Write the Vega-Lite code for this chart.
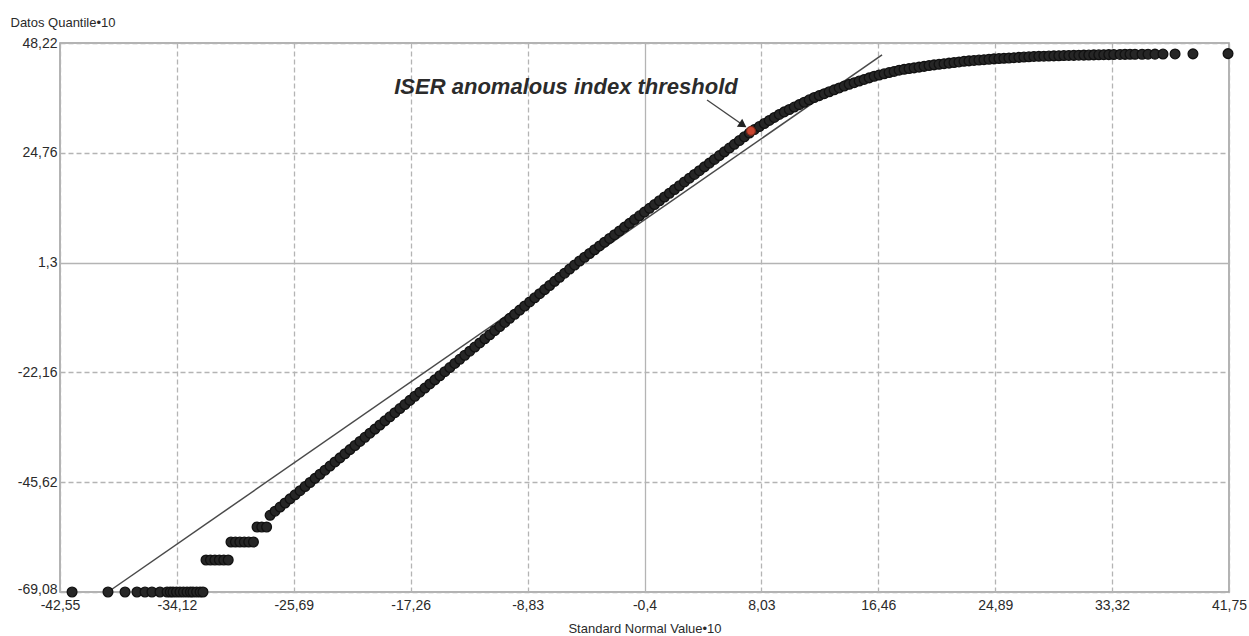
{
  "$schema": "https://vega.github.io/schema/vega-lite/v6.json",
  "width": 1169,
  "height": 549,
  "autosize": {"type": "none"},
  "padding": {"left": 60, "top": 43, "right": 20, "bottom": 44},
  "background": "white",
  "datasets": {
    "pts": [
      {"x": -41.68, "y": -69.08}, {"x": -39.09, "y": -69.08}, {"x": -37.86, "y": -69.08}, {"x": -37.0, "y": -69.08},
      {"x": -36.42, "y": -69.08}, {"x": -35.92, "y": -69.08}, {"x": -35.34, "y": -69.08}, {"x": -34.83, "y": -69.08},
      {"x": -34.6, "y": -69.08}, {"x": -34.4, "y": -69.08}, {"x": -34.15, "y": -69.08}, {"x": -33.9, "y": -69.08},
      {"x": -33.65, "y": -69.08}, {"x": -33.39, "y": -69.08}, {"x": -33.15, "y": -69.08}, {"x": -32.96, "y": -69.08},
      {"x": -32.7, "y": -69.08}, {"x": -32.45, "y": -69.08}, {"x": -32.24, "y": -69.08},
      {"x": -32.02, "y": -62.24}, {"x": -31.7, "y": -62.24}, {"x": -31.38, "y": -62.24}, {"x": -31.06, "y": -62.24},
      {"x": -30.74, "y": -62.24}, {"x": -30.42, "y": -62.24},
      {"x": -30.22, "y": -58.4}, {"x": -29.9, "y": -58.4}, {"x": -29.58, "y": -58.4}, {"x": -29.26, "y": -58.4},
      {"x": -28.94, "y": -58.4}, {"x": -28.6, "y": -58.4},
      {"x": -28.34, "y": -55.19}, {"x": -28.0, "y": -55.19}, {"x": -27.65, "y": -55.19},
      {"x": -27.4, "y": -52.69}, {"x": -27.04, "y": -51.81}, {"x": -26.68, "y": -50.94}, {"x": -26.32, "y": -50.06},
      {"x": -25.96, "y": -49.18}, {"x": -25.6, "y": -48.31}, {"x": -25.24, "y": -47.43}, {"x": -24.88, "y": -46.55},
      {"x": -24.52, "y": -45.68}, {"x": -24.16, "y": -44.8}, {"x": -23.8, "y": -43.92}, {"x": -23.44, "y": -43.05},
      {"x": -23.08, "y": -42.17}, {"x": -22.72, "y": -41.29}, {"x": -22.36, "y": -40.42}, {"x": -22.0, "y": -39.54},
      {"x": -21.64, "y": -38.66}, {"x": -21.28, "y": -37.78}, {"x": -20.92, "y": -36.91}, {"x": -20.56, "y": -36.03},
      {"x": -20.2, "y": -35.15}, {"x": -19.84, "y": -34.28}, {"x": -19.48, "y": -33.4}, {"x": -19.12, "y": -32.52},
      {"x": -18.76, "y": -31.65}, {"x": -18.4, "y": -30.77}, {"x": -18.04, "y": -29.89}, {"x": -17.68, "y": -29.02},
      {"x": -17.32, "y": -28.14}, {"x": -16.96, "y": -27.26}, {"x": -16.6, "y": -26.39}, {"x": -16.24, "y": -25.51},
      {"x": -15.88, "y": -24.63}, {"x": -15.52, "y": -23.76}, {"x": -15.16, "y": -22.88}, {"x": -14.8, "y": -22.0},
      {"x": -14.44, "y": -21.13}, {"x": -14.08, "y": -20.25}, {"x": -13.72, "y": -19.37}, {"x": -13.36, "y": -18.5},
      {"x": -13.0, "y": -17.62}, {"x": -12.64, "y": -16.74}, {"x": -12.28, "y": -15.87}, {"x": -11.92, "y": -14.99},
      {"x": -11.56, "y": -14.11}, {"x": -11.2, "y": -13.23}, {"x": -10.84, "y": -12.36}, {"x": -10.48, "y": -11.48},
      {"x": -10.12, "y": -10.6}, {"x": -9.76, "y": -9.73}, {"x": -9.4, "y": -8.85}, {"x": -9.04, "y": -7.97},
      {"x": -8.68, "y": -7.1}, {"x": -8.32, "y": -6.22}, {"x": -7.96, "y": -5.34}, {"x": -7.6, "y": -4.47},
      {"x": -7.24, "y": -3.59}, {"x": -6.88, "y": -2.71}, {"x": -6.52, "y": -1.84}, {"x": -6.16, "y": -0.96},
      {"x": -5.8, "y": -0.08}, {"x": -5.44, "y": 0.79},
      {"x": -5.08, "y": 1.64}, {"x": -4.72, "y": 2.44}, {"x": -4.36, "y": 3.25}, {"x": -4.0, "y": 4.05},
      {"x": -3.64, "y": 4.86}, {"x": -3.28, "y": 5.66}, {"x": -2.92, "y": 6.47}, {"x": -2.56, "y": 7.27},
      {"x": -2.2, "y": 8.07}, {"x": -1.84, "y": 8.88}, {"x": -1.48, "y": 9.68}, {"x": -1.12, "y": 10.49},
      {"x": -0.76, "y": 11.29}, {"x": -0.4, "y": 12.09}, {"x": -0.04, "y": 12.9}, {"x": 0.32, "y": 13.7},
      {"x": 0.68, "y": 14.51}, {"x": 1.04, "y": 15.31}, {"x": 1.4, "y": 16.12}, {"x": 1.76, "y": 16.92},
      {"x": 2.12, "y": 17.72}, {"x": 2.48, "y": 18.53}, {"x": 2.84, "y": 19.33}, {"x": 3.2, "y": 20.14},
      {"x": 3.56, "y": 20.94}, {"x": 3.92, "y": 21.75}, {"x": 4.28, "y": 22.55}, {"x": 4.64, "y": 23.35},
      {"x": 5.0, "y": 24.16}, {"x": 5.36, "y": 24.96}, {"x": 5.72, "y": 25.77}, {"x": 6.08, "y": 26.57},
      {"x": 6.44, "y": 27.38}, {"x": 6.8, "y": 28.18}, {"x": 7.16, "y": 28.98},
      {"x": 7.52, "y": 29.73}, {"x": 7.88, "y": 30.37}, {"x": 8.24, "y": 31.02}, {"x": 8.6, "y": 31.67},
      {"x": 8.96, "y": 32.31}, {"x": 9.32, "y": 32.96}, {"x": 9.68, "y": 33.5}, {"x": 10.04, "y": 34.01},
      {"x": 10.4, "y": 34.53}, {"x": 10.76, "y": 35.05}, {"x": 11.12, "y": 35.56}, {"x": 11.48, "y": 36.08},
      {"x": 11.84, "y": 36.57}, {"x": 12.2, "y": 36.98}, {"x": 12.56, "y": 37.39}, {"x": 12.92, "y": 37.8},
      {"x": 13.28, "y": 38.21}, {"x": 13.64, "y": 38.62}, {"x": 14.0, "y": 39.02}, {"x": 14.36, "y": 39.4},
      {"x": 14.72, "y": 39.74}, {"x": 15.08, "y": 40.09}, {"x": 15.44, "y": 40.43}, {"x": 15.8, "y": 40.77},
      {"x": 16.16, "y": 41.11}, {"x": 16.52, "y": 41.38}, {"x": 16.88, "y": 41.64}, {"x": 17.24, "y": 41.9},
      {"x": 17.6, "y": 42.15}, {"x": 17.96, "y": 42.41}, {"x": 18.32, "y": 42.59}, {"x": 18.68, "y": 42.75},
      {"x": 19.04, "y": 42.91}, {"x": 19.4, "y": 43.07}, {"x": 19.76, "y": 43.23}, {"x": 20.12, "y": 43.4},
      {"x": 20.48, "y": 43.55}, {"x": 20.84, "y": 43.67}, {"x": 21.2, "y": 43.8}, {"x": 21.56, "y": 43.92},
      {"x": 21.92, "y": 44.05}, {"x": 22.28, "y": 44.17}, {"x": 22.64, "y": 44.3}, {"x": 23.0, "y": 44.4},
      {"x": 23.36, "y": 44.49}, {"x": 23.72, "y": 44.58}, {"x": 24.08, "y": 44.66}, {"x": 24.44, "y": 44.75},
      {"x": 24.8, "y": 44.83}, {"x": 25.16, "y": 44.89}, {"x": 25.52, "y": 44.96}, {"x": 25.88, "y": 45.02},
      {"x": 26.24, "y": 45.09}, {"x": 26.6, "y": 45.15}, {"x": 26.96, "y": 45.22}, {"x": 27.32, "y": 45.28},
      {"x": 27.68, "y": 45.35}, {"x": 28.04, "y": 45.38}, {"x": 28.4, "y": 45.41}, {"x": 28.76, "y": 45.44},
      {"x": 29.12, "y": 45.47}, {"x": 29.48, "y": 45.5}, {"x": 29.84, "y": 45.53}, {"x": 30.2, "y": 45.56},
      {"x": 30.56, "y": 45.58}, {"x": 30.92, "y": 45.61}, {"x": 31.28, "y": 45.63}, {"x": 31.64, "y": 45.65},
      {"x": 32.0, "y": 45.68}, {"x": 32.36, "y": 45.7}, {"x": 32.72, "y": 45.72}, {"x": 33.08, "y": 45.74},
      {"x": 33.44, "y": 45.76}, {"x": 33.89, "y": 45.78}, {"x": 34.25, "y": 45.79}, {"x": 34.61, "y": 45.8},
      {"x": 34.97, "y": 45.81}, {"x": 35.48, "y": 45.82}, {"x": 35.91, "y": 45.83}, {"x": 36.41, "y": 45.84},
      {"x": 36.99, "y": 45.86}, {"x": 37.86, "y": 45.88}, {"x": 39.15, "y": 45.9}, {"x": 41.68, "y": 45.95}
    ],
    "ref": [
      {"x": -39.09, "y": -69.08},
      {"x": 16.73, "y": 45.66}
    ],
    "thr": [
      {"x": 7.28, "y": 29.42}
    ],
    "arrow": [
      {"x": 4.11, "y": 36.04, "x2": 6.7, "y2": 30.7}
    ],
    "note": [
      {"x": -6.06, "y": 38.8, "label": "ISER anomalous index threshold"}
    ]
  },
  "encoding": {
    "x": {
      "field": "x",
      "type": "quantitative",
      "scale": {"domain": [-42.55, 41.75], "nice": false, "zero": false},
      "axis": {
        "title": "Standard Normal Value•10",
        "values": [-42.55, -34.12, -25.69, -17.26, -8.83, -0.4, 8.03, 16.46, 24.89, 33.32, 41.75],
        "labelExpr": "replace('' + datum.value, '.', ',')",
        "labelFlush": false,
        "labelOverlap": false,
        "labelPadding": 6,
        "titleY": 40,
        "titleBaseline": "alphabetic",
        "gridDash": {"condition": {"test": "abs(datum.value + 0.4) < 0.001", "value": []}, "value": [5, 3]}
      }
    },
    "y": {
      "field": "y",
      "type": "quantitative",
      "scale": {"domain": [-69.08, 48.22], "nice": false, "zero": false},
      "axis": {
        "title": "Datos Quantile•10",
        "values": [48.22, 24.76, 1.3, -22.16, -45.62, -69.08],
        "labelExpr": "replace('' + datum.value, '.', ',')",
        "labelFlush": false,
        "labelOverlap": false,
        "labelPadding": 3,
        "labelOffset": {"condition": {"test": "datum.value < -69", "value": -3}, "value": 0},
        "titleAngle": 0,
        "titleX": -50,
        "titleY": -21,
        "titleAlign": "left",
        "titleBaseline": "middle",
        "gridDash": {"condition": {"test": "abs(datum.value - 1.3) < 0.001", "value": []}, "value": [5, 3]}
      }
    }
  },
  "layer": [
    {
      "data": {"name": "ref"},
      "mark": {"type": "line", "color": "#4a4a4a", "strokeWidth": 1.5, "clip": false}
    },
    {
      "data": {"name": "pts"},
      "mark": {"type": "point", "shape": "circle", "filled": false, "fill": "#262626", "stroke": "#111111", "strokeWidth": 1.3, "size": 95, "opacity": 1, "fillOpacity": 1, "strokeOpacity": 1}
    },
    {
      "data": {"name": "thr"},
      "mark": {"type": "point", "shape": "circle", "filled": false, "fill": "#c9452f", "stroke": "#7a2a1c", "strokeWidth": 1.2, "size": 80, "opacity": 1, "fillOpacity": 1}
    },
    {
      "data": {"name": "arrow"},
      "mark": {"type": "rule", "color": "#444444", "strokeWidth": 1.4},
      "encoding": {
        "x2": {"field": "x2"},
        "y2": {"field": "y2"}
      }
    },
    {
      "data": {"name": "arrow"},
      "mark": {"type": "point", "shape": "triangle-up", "filled": true, "color": "#222222", "size": 90, "angle": 124, "opacity": 1},
      "encoding": {
        "x": {"field": "x2", "type": "quantitative"},
        "y": {"field": "y2", "type": "quantitative"}
      }
    },
    {
      "data": {"name": "note"},
      "mark": {"type": "text", "font": "Liberation Sans", "fontWeight": "bold", "fontStyle": "italic", "fontSize": 22, "color": "#2b2b2b", "align": "center", "baseline": "middle"},
      "encoding": {
        "text": {"field": "label"}
      }
    }
  ],
  "config": {
    "view": {"stroke": "#9a9a9a", "strokeWidth": 1.5},
    "axis": {
      "grid": true,
      "gridColor": "#b4b4b4",
      "gridWidth": 1.3,
      "ticks": false,
      "domain": false,
      "labelFont": "Liberation Sans",
      "labelFontSize": 14,
      "labelColor": "#2a2a2a",
      "titleFont": "Liberation Sans",
      "titleFontSize": 13,
      "titleFontWeight": "normal",
      "titleColor": "#2a2a2a"
    }
  }
}
